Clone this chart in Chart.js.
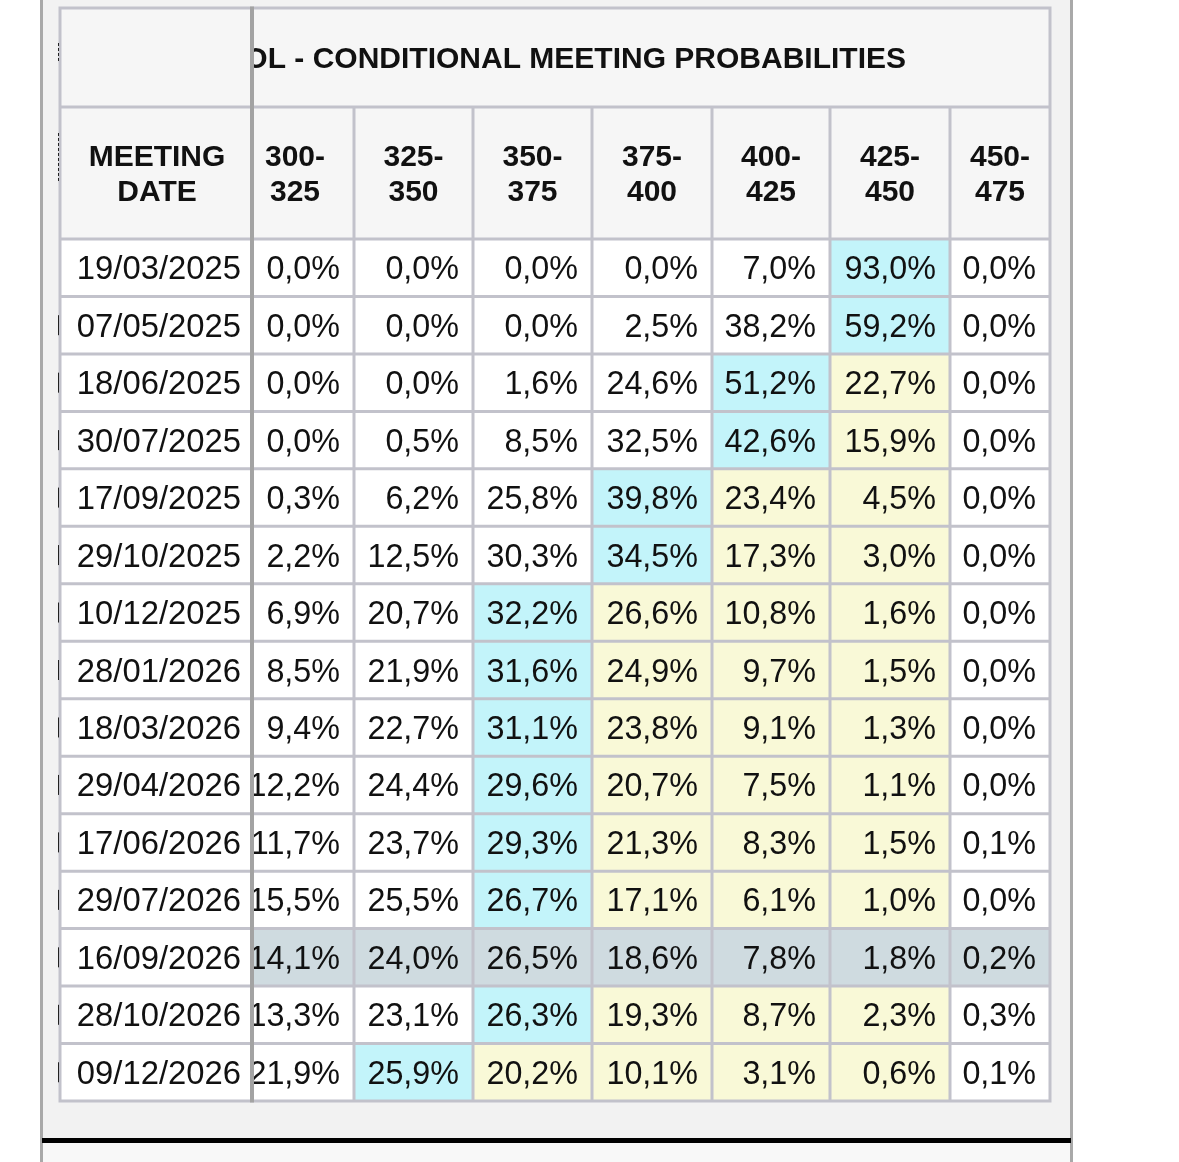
<!DOCTYPE html>
<html>
<head>
<meta charset="utf-8">
<script src="https://cdn.jsdelivr.net/npm/chart.js@4.4.1/dist/chart.umd.min.js"></script>
<style>
  html, body { margin: 0; padding: 0; background: #fff; }
  canvas { display: block; }
</style>
</head>
<body>
<canvas id="probChart" width="1179" height="1162"></canvas>
<script>
// table content
const meetingDates = ['19/03/2025', '07/05/2025', '18/06/2025', '30/07/2025', '17/09/2025',
  '29/10/2025', '10/12/2025', '28/01/2026', '18/03/2026', '29/04/2026', '17/06/2026',
  '29/07/2026', '16/09/2026', '28/10/2026', '09/12/2026'];
const rateRanges = ['300-325', '325-350', '350-375', '375-400', '400-425', '425-450', '450-475'];

const p300_325 = [0.0, 0.0, 0.0, 0.0, 0.3, 2.2, 6.9, 8.5, 9.4, 12.2, 11.7, 15.5, 14.1, 13.3, 21.9];
const p325_350 = [0.0, 0.0, 0.0, 0.5, 6.2, 12.5, 20.7, 21.9, 22.7, 24.4, 23.7, 25.5, 24.0, 23.1, 25.9];
const p350_375 = [0.0, 0.0, 1.6, 8.5, 25.8, 30.3, 32.2, 31.6, 31.1, 29.6, 29.3, 26.7, 26.5, 26.3, 20.2];
const p375_400 = [0.0, 2.5, 24.6, 32.5, 39.8, 34.5, 26.6, 24.9, 23.8, 20.7, 21.3, 17.1, 18.6, 19.3, 10.1];
const p400_425 = [7.0, 38.2, 51.2, 42.6, 23.4, 17.3, 10.8, 9.7, 9.1, 7.5, 8.3, 6.1, 7.8, 8.7, 3.1];
const p425_450 = [93.0, 59.2, 22.7, 15.9, 4.5, 3.0, 1.6, 1.5, 1.3, 1.1, 1.5, 1.0, 1.8, 2.3, 0.6];
const p450_475 = [0.0, 0.0, 0.0, 0.0, 0.0, 0.0, 0.0, 0.0, 0.0, 0.0, 0.1, 0.0, 0.2, 0.3, 0.1];
const seriesByRange = [p300_325, p325_350, p350_375, p375_400, p400_425, p425_450, p450_475];

const titleText = 'OL - CONDITIONAL MEETING PROBABILITIES';
const dateHeader = ['MEETING', 'DATE'];
const highlightDate = '16/09/2026';   // hovered row
const currentRange = '425-450';

// layout / style
const DATE_COL_W = 190;
const SCROLL_X = 14;               // first rate column slides under the frozen column
const rateColW = [118, 119, 119, 120, 118, 120, 100];
const HEAD1_H = 99, HEAD2_H = 132;
const TITLE_RIGHT = 846;           // x units
const FONT = '"Liberation Sans", Arial, Helvetica, sans-serif';
const C = {
  white: '#ffffff', cyan: '#c3f4fa', yellow: '#f9f9d7', hover: '#cfdbe0',
  headBg: '#f6f6f6', grid: '#c2c2cb', frozen: '#a3a3a3', panel: '#f2f2f2',
  panelLow: '#f8f8f8', side: '#a9a9a9', text: '#111111'
};

// column edges in x units
const rateStart = [];
let acc = DATE_COL_W - SCROLL_X;
rateColW.forEach(w => { rateStart.push(acc); acc += w; });
const X_MAX = acc;

const curIdx = rateRanges.indexOf(currentRange);
function cellColor(r, c) {
  if (meetingDates[r] === highlightDate) return C.hover;
  const row = seriesByRange.map(s => s[r]);
  const maxIdx = row.indexOf(Math.max(...row));
  if (c === maxIdx) return C.cyan;
  if (c > maxIdx && c <= curIdx) return C.yellow;
  return C.white;
}
const fmt = v => v.toFixed(1).replace('.', ',') + '%';

const datasets = [{
  label: 'date',
  data: meetingDates.map(() => [0, DATE_COL_W]),
  backgroundColor: C.white
}];
rateRanges.forEach((rng, c) => {
  datasets.push({
    label: rng,
    data: meetingDates.map(() => [rateStart[c], rateStart[c] + rateColW[c]]),
    backgroundColor: meetingDates.map((d, r) => cellColor(r, c))
  });
});

const tablePlugin = {
  id: 'tablePlugin',
  beforeDraw(chart) {
    const ctx = chart.ctx, a = chart.chartArea;
    const W = chart.width, H = chart.height;
    const pL = a.left - 17, pR = a.right + 20, lineY = a.bottom + 37;
    ctx.save();
    ctx.fillStyle = C.white; ctx.fillRect(0, 0, W, H);
    ctx.fillStyle = C.panel; ctx.fillRect(pL, 0, pR - pL, lineY);
    ctx.fillStyle = C.panelLow; ctx.fillRect(pL, lineY, pR - pL, H - lineY);
    ctx.fillStyle = C.side;
    ctx.fillRect(pL - 3, 0, 3, H);
    ctx.fillRect(pR, 0, 3, H);
    ctx.fillStyle = '#000';
    ctx.fillRect(pL - 1, lineY, pR - pL + 2, 5);
    // header background
    const top = a.top - HEAD1_H - HEAD2_H;
    ctx.fillStyle = C.headBg;
    ctx.fillRect(a.left, top, a.right - a.left, HEAD1_H + HEAD2_H);
    ctx.restore();
  },
  afterDatasetsDraw(chart) {
    const ctx = chart.ctx, a = chart.chartArea;
    const xs = chart.scales.x, ys = chart.scales.y;
    const n = meetingDates.length;
    const band = (ys.bottom - ys.top) / n;
    const top = a.top - HEAD1_H - HEAD2_H;
    const head2Top = a.top - HEAD2_H;
    const frozenX = xs.getPixelForValue(DATE_COL_W);

    ctx.save();
    // grid
    ctx.strokeStyle = C.grid; ctx.lineWidth = 3;
    ctx.beginPath();
    [top, head2Top].forEach(y => { ctx.moveTo(a.left - 1.5, y); ctx.lineTo(a.right + 1.5, y); });
    for (let r = 0; r <= n; r++) {
      const y = ys.top + r * band;
      ctx.moveTo(a.left - 1.5, y); ctx.lineTo(a.right + 1.5, y);
    }
    ctx.moveTo(a.left, top); ctx.lineTo(a.left, a.bottom + 1.5);
    ctx.moveTo(a.right, top); ctx.lineTo(a.right, a.bottom + 1.5);
    rateStart.forEach((s, c) => {
      if (c === 0) return;
      const x = xs.getPixelForValue(s);
      ctx.moveTo(x, head2Top); ctx.lineTo(x, a.bottom);
    });
    ctx.stroke();

    // small clipped marks at the left edge
    ctx.strokeStyle = '#222'; ctx.lineWidth = 1;
    ctx.setLineDash([3, 2]);
    ctx.beginPath();
    ctx.moveTo(a.left - 1.5, top + 35); ctx.lineTo(a.left - 1.5, top + 55);
    ctx.moveTo(a.left - 1.5, head2Top + 26); ctx.lineTo(a.left - 1.5, head2Top + 76);
    ctx.stroke();
    ctx.setLineDash([]);
    ctx.beginPath();
    for (let r = 1; r < n; r++) {
      const y = ys.getPixelForValue(r);
      ctx.moveTo(a.left - 1.5, y - 10); ctx.lineTo(a.left - 1.5, y + 10);
    }
    ctx.stroke();

    ctx.fillStyle = C.text;
    // date column header and dates
    ctx.font = 'bold 30px ' + FONT;
    ctx.textAlign = 'center'; ctx.textBaseline = 'alphabetic';
    const hMid = head2Top + HEAD2_H / 2;
    const dateCx = (xs.getPixelForValue(0) + frozenX) / 2 + 2;
    ctx.fillText(dateHeader[0], dateCx, hMid - 7);
    ctx.fillText(dateHeader[1], dateCx, hMid + 28);
    ctx.font = '32.8px ' + FONT;
    ctx.textAlign = 'right';
    meetingDates.forEach((d, r) => {
      ctx.fillText(d, frozenX - 9, ys.getPixelForValue(r) + 11.5);
    });

    // rate columns (clipped by the frozen column)
    ctx.save();
    ctx.beginPath();
    ctx.rect(frozenX + 2, top, a.right - frozenX, a.bottom - top);
    ctx.clip();
    ctx.font = 'bold 30px ' + FONT;
    ctx.textAlign = 'right';
    ctx.fillText(titleText, xs.getPixelForValue(TITLE_RIGHT), top + HEAD1_H / 2 + 10);
    ctx.textAlign = 'center';
    rateRanges.forEach((rng, c) => {
      const cx = (xs.getPixelForValue(rateStart[c]) + xs.getPixelForValue(rateStart[c] + rateColW[c])) / 2;
      const parts = rng.split('-');
      ctx.fillText(parts[0] + '-', cx, hMid - 7);
      ctx.fillText(parts[1], cx, hMid + 28);
    });
    ctx.font = '32.3px ' + FONT;
    ctx.textAlign = 'right';
    seriesByRange.forEach((s, c) => {
      const xr = xs.getPixelForValue(rateStart[c] + rateColW[c]) - 14;
      s.forEach((v, r) => ctx.fillText(fmt(v), xr, ys.getPixelForValue(r) + 11.5));
    });
    ctx.restore();

    // frozen column edge
    ctx.fillStyle = C.frozen;
    ctx.fillRect(frozenX, top - 1.5, 4, a.bottom - top + 3);
    ctx.restore();
  }
};

new Chart(document.getElementById('probChart'), {
  type: 'bar',
  data: { labels: meetingDates, datasets: datasets },
  options: {
    indexAxis: 'y',
    responsive: false,
    animation: false,
    events: [],
    layout: { padding: { left: 60, right: 129, top: 239, bottom: 61 } },
    datasets: { bar: { grouped: false, barPercentage: 1, categoryPercentage: 1, borderWidth: 0 } },
    plugins: { legend: { display: false }, tooltip: { enabled: false } },
    scales: {
      x: { type: 'linear', min: 0, max: X_MAX, display: false },
      y: { type: 'category', display: false, offset: true }
    }
  },
  plugins: [tablePlugin]
});
</script>
</body>
</html>
